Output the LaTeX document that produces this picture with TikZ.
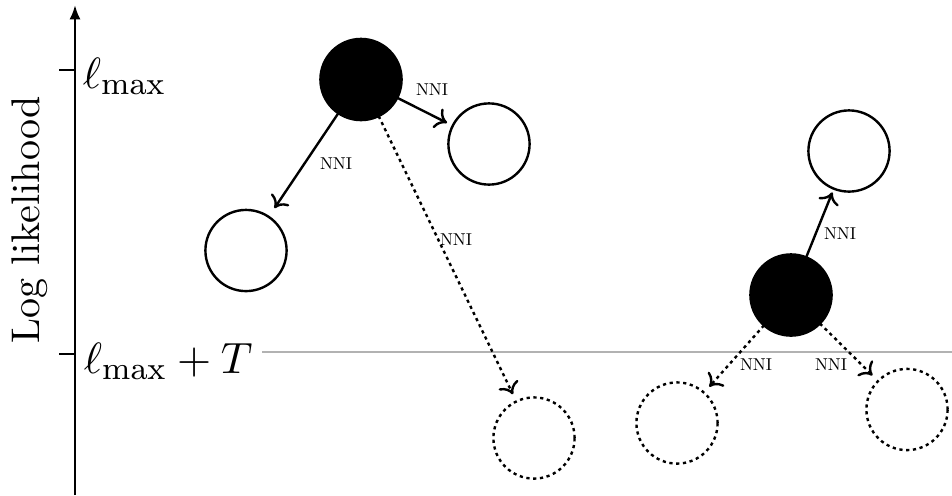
\documentclass[tikz,border=0pt]{standalone}
\usetikzlibrary{arrows.meta}
\begin{document}
\begin{tikzpicture}[x=0.25pt,y=-0.25pt,
  tree/.style={circle,draw,line width=0.6pt,minimum size=20.3pt,inner sep=0pt,outer sep=0pt},
  best/.style={tree,fill=black},
  cand/.style={tree,fill=white},
  gone/.style={tree,dash pattern=on 0.8pt off 0.9pt},
  move/.style={line width=0.6pt,-{To[length=2.8pt,width=5.4pt]},shorten >=1.6pt},
  dmove/.style={move,dash pattern=on 0.8pt off 0.9pt},
  lbl/.style={font=\fontsize{10}{12}\selectfont,inner sep=0pt},
  big/.style={font=\fontsize{11}{13}\selectfont,inner sep=0pt}]
\useasboundingbox (0,0) rectangle (952,495);
% axis
\coordinate (abot) at (75,495);
\coordinate (atop) at (75,5);
\draw[line width=0.65pt,-{Latex[length=3.6pt,width=2.8pt]}] (abot) -- (atop);
\coordinate (t1) at (75,70);
\coordinate (t2) at (75,354);
\draw[line width=0.6pt] (t1) -- ++(-16,0);
\draw[line width=0.6pt] (t2) -- ++(-16,0);
\node[big,anchor=base west] (l1) at (82,88) {$\ell_{\max}$};
\node[big,anchor=base west] (l2) at (83,373) {$\ell_{\max}+T$};
\node[rotate=90,font=\fontsize{10}{12}\selectfont,inner sep=0pt] (yl) at (30,220) {Log likelihood};
% threshold line
\coordinate (g1) at (262,352);
\coordinate (g2) at (952,352);
\draw[line width=0.5pt,black!30] (g1) -- (g2);
% trees
\node[best] (b1) at (361,79.5) {};
\node[cand] (c1) at (489,144) {};
\node[cand] (c2) at (246,250.5) {};
\node[gone] (d1) at (534,438) {};
\node[best] (b2) at (791,295) {};
\node[cand] (c3) at (849,151) {};
\node[gone] (d2) at (677,423) {};
\node[gone] (d3) at (907,409.5) {};
% moves
\draw[move] (b1) -- (c1);
\draw[move,shorten >=2.6pt] (b1) -- (c2);
\draw[dmove,shorten >=2pt] (b1) -- (d1);
\draw[move,shorten >=1pt] (b2) -- (c3);
\draw[dmove,shorten >=2pt] (b2) -- (d2);
\draw[dmove,shorten >=2pt] (b2) -- (d3);
% labels
\node[lbl] (n1) at (432,90) {\scalebox{0.43}{NNI}};
\node[lbl] (n2) at (336,164) {\scalebox{0.43}{NNI}};
\node[lbl] (n3) at (456,240) {\scalebox{0.43}{NNI}};
\node[lbl] (n4) at (840,234) {\scalebox{0.43}{NNI}};
\node[lbl] (n5) at (756,365) {\scalebox{0.43}{NNI}};
\node[lbl] (n6) at (831,365) {\scalebox{0.43}{NNI}};
\end{tikzpicture}
\end{document}
